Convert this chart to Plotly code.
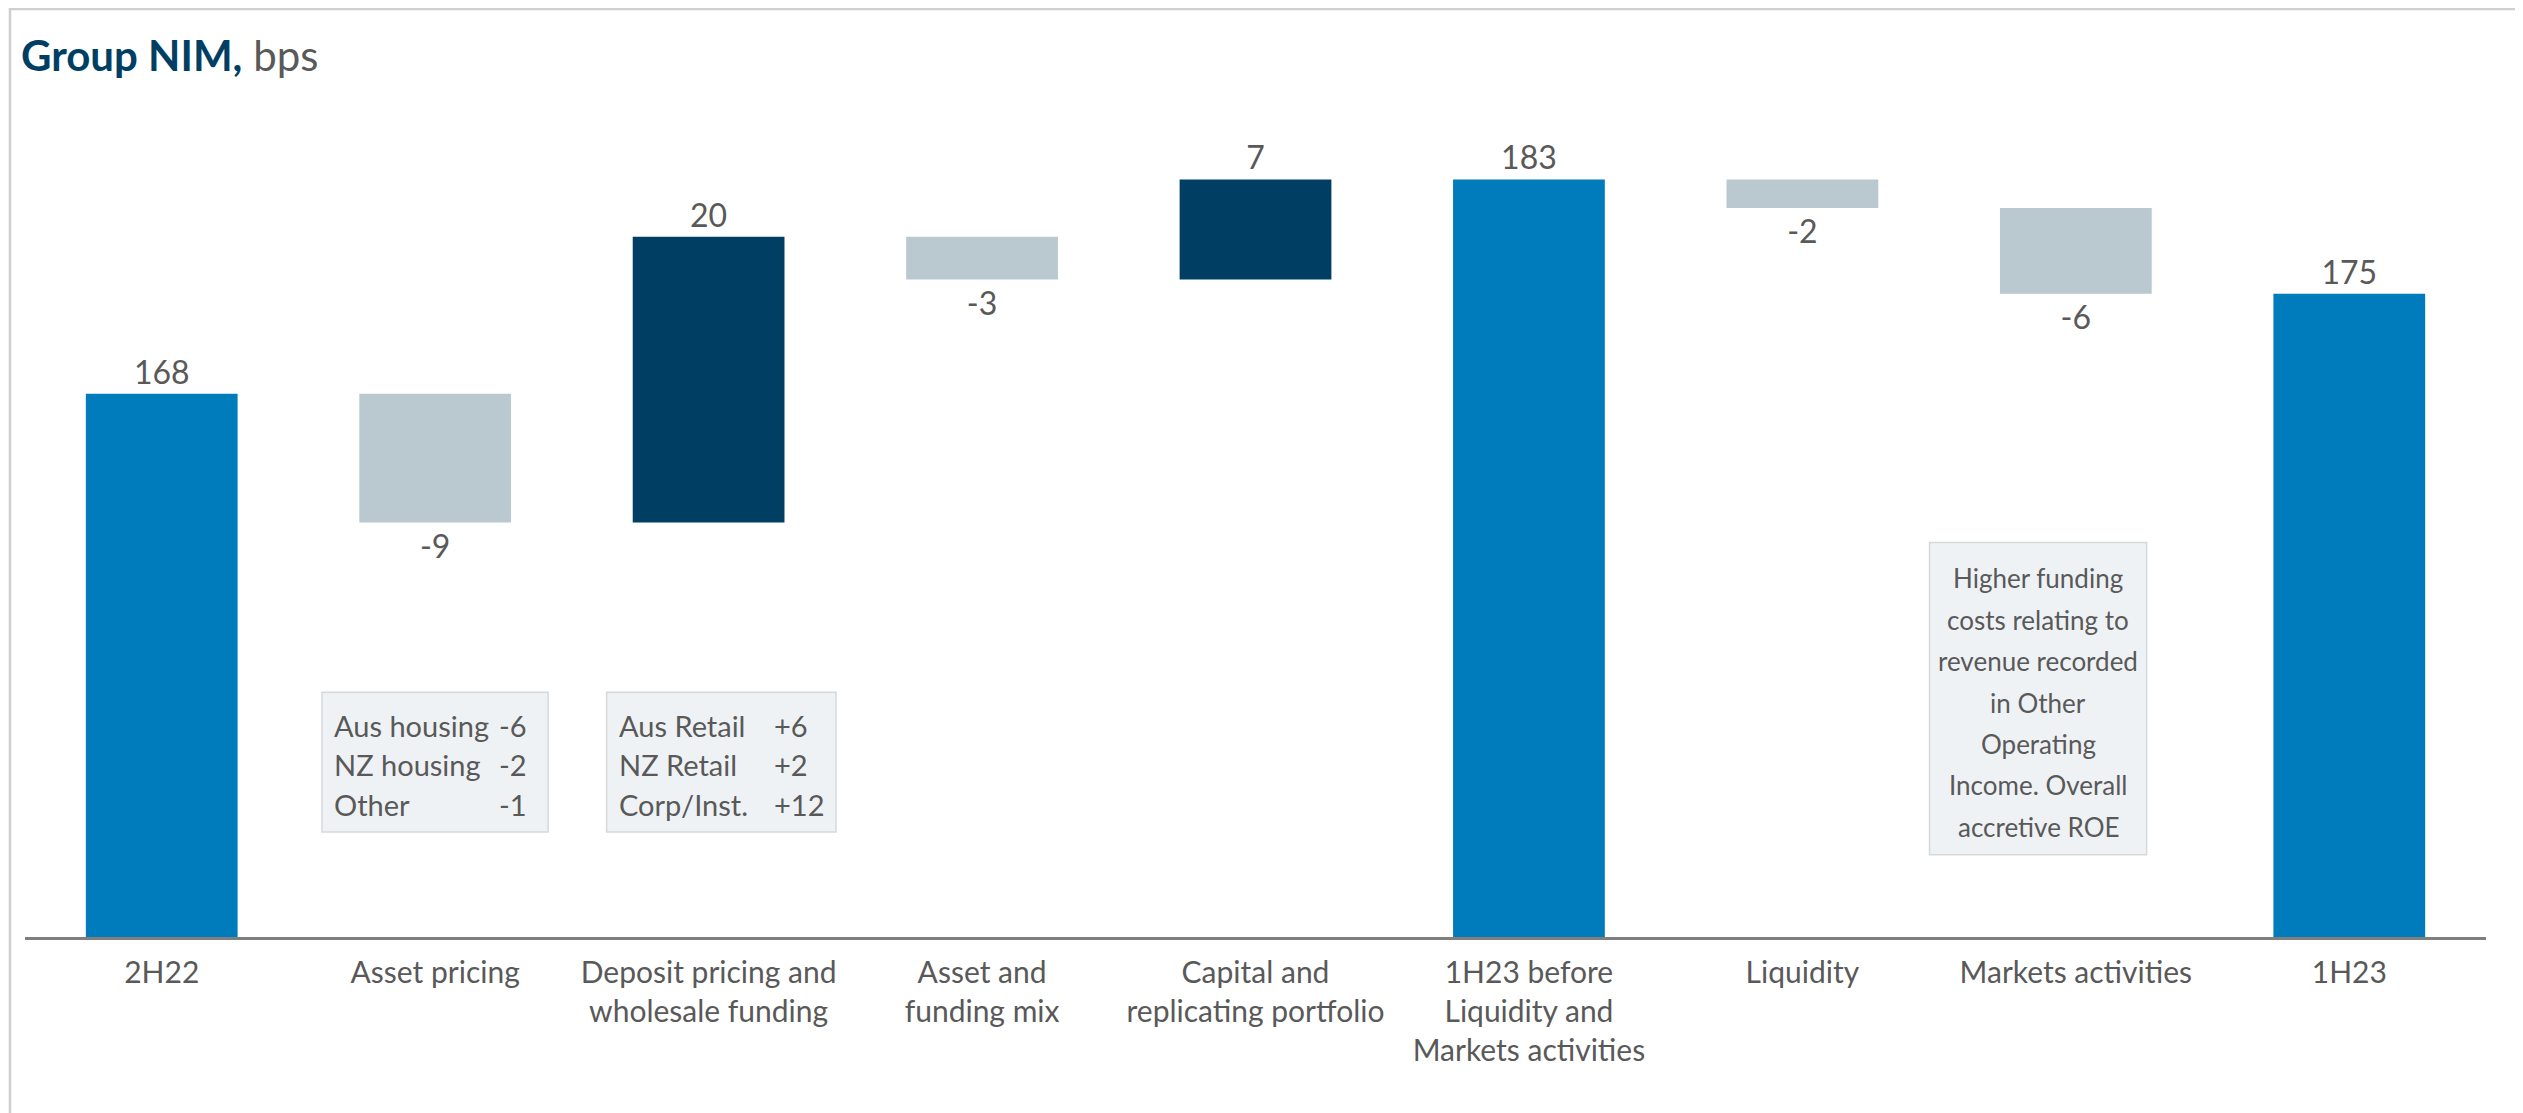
import plotly.graph_objects as go

# waterfall data (bps)
categories = [
    "2H22",
    "Asset pricing",
    "Deposit pricing and<br>wholesale funding",
    "Asset and<br>funding mix",
    "Capital and<br>replicating portfolio",
    "1H23 before<br>Liquidity and<br>Markets activities",
    "Liquidity",
    "Markets activities",
    "1H23",
]
measures = ["absolute", "relative", "relative", "relative", "relative",
            "total", "relative", "relative", "total"]
values = [168, -9, 20, -3, 7, 0, -2, -6, 0]
value_labels = ["168", "-9", "20", "-3", "7", "183", "-2", "-6", "175"]

# call-out boxes
pricing_items = ["Aus housing", "NZ housing", "Other"]
pricing_vals = ["-6", "-2", "-1"]
deposit_items = ["Aus Retail", "NZ Retail", "Corp/Inst."]
deposit_vals = ["+6", "+2", "+12"]
markets_note = ["Higher funding", "costs relating to", "revenue recorded", "in Other",
                "Operating", "Income. Overall", "accretive ROE"]

BLUE = "#007bbc"
NAVY = "#003f63"
GREY = "#b9c9cf"
TEXT = "#595959"
BOX_BG = "#eff2f5"
BOX_LINE = "#d6d9dc"
FONT = "Lato, 'Open Sans', sans-serif"

fig = go.Figure()

fig.add_trace(
    go.Waterfall(
        x=categories,
        y=values,
        measure=measures,
        text=value_labels,
        texttemplate="%{text}",
        textposition="outside",
        textfont=dict(size=32, color=TEXT, family=FONT),
        increasing=dict(marker=dict(color=NAVY)),
        decreasing=dict(marker=dict(color=GREY)),
        totals=dict(marker=dict(color=BLUE)),
        connector=dict(visible=False),
        width=0.555,
        cliponaxis=False,
        showlegend=False,
    )
)

# outer frame
fig.add_shape(type="rect", xref="paper", yref="paper",
              x0=-0.0061, x1=1.0142, y0=-0.3, y1=1.1194,
              line=dict(color="#cfcfcf", width=2.5), layer="below")

# call-out boxes
box_style = dict(fillcolor=BOX_BG, line=dict(color=BOX_LINE, width=1.5), layer="below")
fig.add_shape(type="rect", xref="x", yref="y", x0=0.586, x1=1.413, y0=137.34, y1=147.13, **box_style)
fig.add_shape(type="rect", xref="x", yref="y", x0=1.627, x1=2.466, y0=137.34, y1=147.13, **box_style)
fig.add_shape(type="rect", xref="x", yref="y", x0=6.465, x1=7.259, y0=135.75, y1=157.6, **box_style)

box_font = dict(size=29, color=TEXT, family=FONT)
row_top, row_step = 144.83, 2.765
for i, (name, val) in enumerate(zip(pricing_items, pricing_vals)):
    lvl = row_top - i * row_step
    fig.add_annotation(x=0.624, y=lvl, text=name, showarrow=False,
                       xanchor="left", yanchor="middle", font=box_font)
    fig.add_annotation(x=1.343, y=lvl, text=val, showarrow=False,
                       xanchor="right", yanchor="middle", font=box_font)
for i, (name, val) in enumerate(zip(deposit_items, deposit_vals)):
    lvl = row_top - i * row_step
    fig.add_annotation(x=1.665, y=lvl, text=name, showarrow=False,
                       xanchor="left", yanchor="middle", font=box_font)
    fig.add_annotation(x=2.232, y=lvl, text=val, showarrow=False,
                       xanchor="left", yanchor="middle", font=box_font)

note_top, note_step = 155.1, 2.9
for i, line in enumerate(markets_note):
    fig.add_annotation(x=6.862, y=note_top - i * note_step, text=line, showarrow=False,
                       xanchor="center", yanchor="middle",
                       font=dict(size=26, color=TEXT, family=FONT))

fig.update_layout(
    width=2523,
    height=1113,
    margin=dict(l=17, r=45, t=100, b=184),
    paper_bgcolor="white",
    plot_bgcolor="white",
    font=dict(family=FONT, color=TEXT),
    title=dict(
        text=f"<b>Group NIM,</b> <span style='color:{TEXT}'>bps</span>",
        xref="container", yref="container",
        x=13 / 2523, y=1 - 48 / 1113, xanchor="left", yanchor="middle",
        font=dict(size=42, color=NAVY, family=FONT),
    ),
    xaxis=dict(
        showline=True, linecolor="#7f7f7f", linewidth=2.5,
        showgrid=False, ticks="", ticklabelstandoff=7,
        tickfont=dict(size=30, color=TEXT, family=FONT),
    ),
    yaxis=dict(range=[130, 188], visible=False, showgrid=False, zeroline=False),
)

fig.write_html("out.html")
